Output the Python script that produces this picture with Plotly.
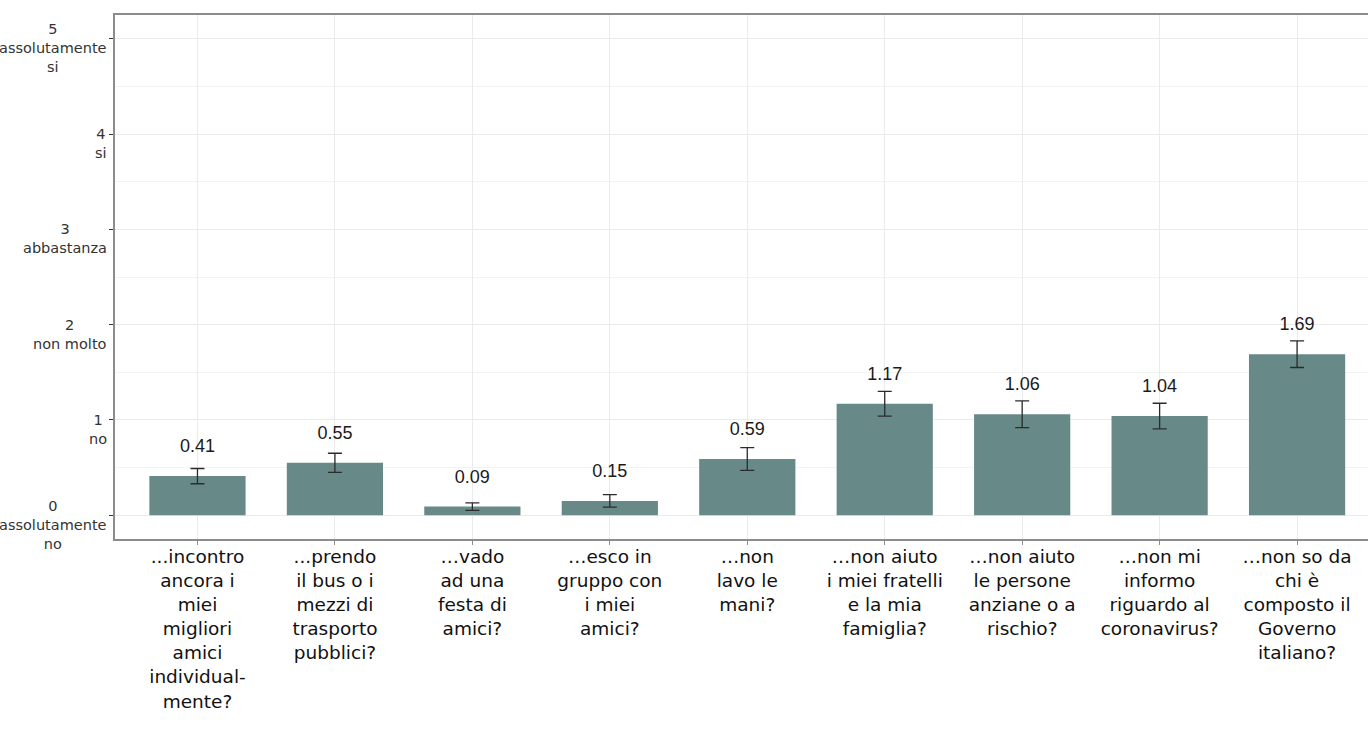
import plotly.graph_objects as go

categories = [
    "...incontro<br>ancora i<br>miei<br>migliori<br>amici<br>individual-<br>mente?",
    "...prendo<br>il bus o i<br>mezzi di<br>trasporto<br>pubblici?",
    "…vado<br>ad una<br>festa di<br>amici?",
    "…esco in<br>gruppo con<br>i miei<br>amici?",
    "…non<br>lavo le<br>mani?",
    "…non aiuto<br>i miei fratelli<br>e la mia<br>famiglia?",
    "…non aiuto<br>le persone<br>anziane o a<br>rischio?",
    "…non mi<br>informo<br>riguardo al<br>coronavirus?",
    "…non so da<br>chi è<br>composto il<br>Governo<br>italiano?",
]
means = [0.41, 0.55, 0.09, 0.15, 0.59, 1.17, 1.06, 1.04, 1.69]
errors = [0.08, 0.10, 0.04, 0.065, 0.12, 0.13, 0.14, 0.135, 0.14]
value_labels = ["0.41", "0.55", "0.09", "0.15", "0.59", "1.17", "1.06", "1.04", "1.69"]

y_tick_vals = [0, 1, 2, 3, 4, 5]
y_tick_text = [
    "0<br>assolutamente<br>no",
    "1<br>no",
    "2<br>non molto",
    "3<br>abbastanza",
    "4<br>si",
    "5<br>assolutamente<br>si",
]

LABEL_OFFSET = 0.3
BAR_COLOR = "#678a89"
FONT = "DejaVu Sans"

x_idx = list(range(len(categories)))

fig = go.Figure()
fig.add_trace(go.Bar(
    x=x_idx, y=means, width=0.7,
    marker=dict(color=BAR_COLOR, line=dict(width=0)),
    error_y=dict(type="data", array=errors, visible=True,
                 color="#2b2b2b", thickness=1.3, width=7),
    hoverinfo="skip",
))
fig.add_trace(go.Scatter(
    x=x_idx, y=[m + LABEL_OFFSET for m in means],
    mode="text", text=value_labels, textposition="middle center",
    textfont=dict(family="Liberation Sans, Arial", size=18, color="#1a1a1a"),
    hoverinfo="skip",
))

for v, t in zip(y_tick_vals, y_tick_text):
    fig.add_annotation(
        x=0, xref="paper", y=v, yref="y", text=t, showarrow=False,
        xanchor="right", yanchor="middle", align="center", xshift=-6, yshift=-9.5,
        font=dict(family=FONT, size=14.5, color="#333333"),
    )

fig.update_layout(
    width=1368, height=733,
    margin=dict(l=115, r=0, t=15, b=194),
    paper_bgcolor="white", plot_bgcolor="white",
    showlegend=False,
    bargap=0.3,
)
fig.update_xaxes(
    range=[-0.6, 8.516],
    tickmode="array", tickvals=x_idx, ticktext=categories,
    tickfont=dict(family=FONT, size=18.5, color="#111111"),
    showgrid=True, gridcolor="#ebebeb", gridwidth=1,
    showline=True, linecolor="#8c8c8c", linewidth=2, mirror=True,
    ticks="outside", ticklen=4, tickcolor="#8c8c8c", tickwidth=1,
    ticklabelstandoff=-4,
    zeroline=False, tickangle=0,
)
fig.update_yaxes(
    range=[-0.25, 5.25],
    tickmode="array", tickvals=y_tick_vals, showticklabels=False,
    showgrid=True, gridcolor="#ebebeb", gridwidth=1,
    minor=dict(dtick=0.5, tick0=0, showgrid=True, gridcolor="#f3f3f3", gridwidth=1),
    showline=True, linecolor="#8c8c8c", linewidth=2,
    ticks="outside", ticklen=4, tickcolor="#333333", tickwidth=1,
    zeroline=False,
)

fig.write_html(
    "out.html",
    config={"displayModeBar": False},
    post_script="document.body.style.margin='0';document.body.style.overflow='hidden';",
)
